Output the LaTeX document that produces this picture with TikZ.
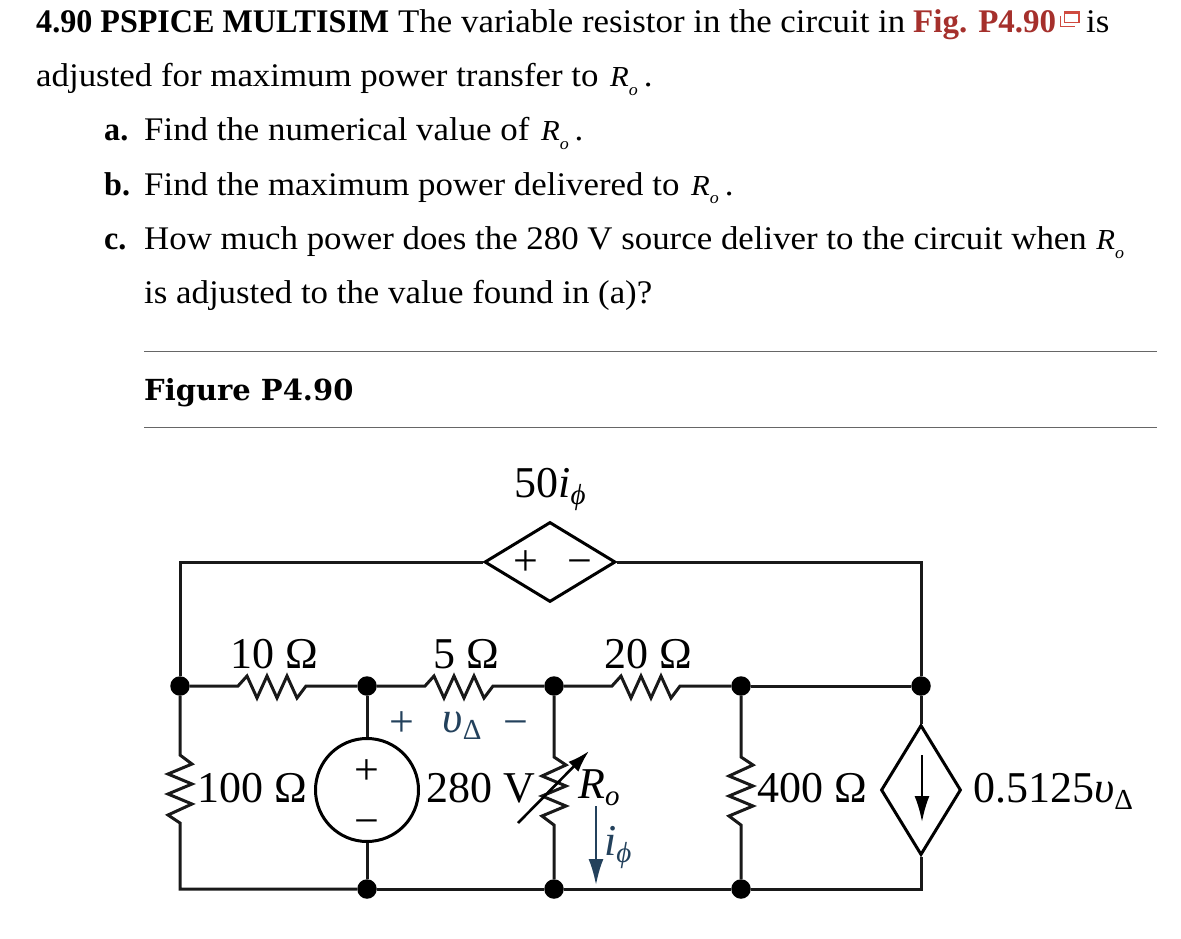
\documentclass[tikz,border=0pt]{standalone}
\usepackage{fontspec}
\usetikzlibrary{shapes.geometric,arrows.meta}
\setmainfont{Liberation Serif}
\newfontfamily\bodyf[FakeStretch=1.056]{Liberation Serif}
\newfontfamily\boldf[FakeStretch=0.973]{Liberation Serif Bold}
\newfontfamily\redf{Liberation Serif Bold}
\newfontfamily\figf{DejaVu Serif}
\newcommand\bsz{\fontsize{33}{38}\selectfont\bodyf}
\newcommand\lsz{\fontsize{44}{50}\selectfont}
\newcommand\lsub[1]{\raisebox{-7pt}{\fontsize{29}{32}\selectfont #1}}
\newcommand\RoBare{{\fontsize{29}{32}\selectfont\itshape R}\raisebox{-9pt}{\fontsize{17}{20}\selectfont\itshape o}}
\newcommand\Ro{\hspace{3pt}\RoBare\hspace{6pt}.}
\definecolor{figred}{HTML}{A5302C}
\definecolor{iconred}{HTML}{CF4A3F}
\definecolor{figblue}{HTML}{23415C}
\tikzset{
 txt/.style={anchor=base west,inner sep=0pt,font=\bsz,text=black},
 lab/.style={anchor=base,inner sep=0pt,font=\lsz,text=black},
 bluelab/.style={lab,text=figblue},
 wire/.style={line width=3pt,line join=miter,draw=black!90},
 dot/.style={circle,fill=black,inner sep=0pt,minimum size=19.5pt},
 rule/.style={line width=1pt,draw=black!60},
 hdiam/.style={diamond,draw=black,line width=3pt,inner sep=0pt,aspect=1.64,minimum width=131pt,minimum height=80pt},
 vdiam/.style={diamond,draw=black,line width=3pt,inner sep=0pt,aspect=0.615,minimum width=80pt,minimum height=130pt},
 src/.style={circle,draw=black,line width=3pt,inner sep=0pt,minimum size=103pt}
}
\begin{document}
\begin{tikzpicture}[x=1pt,y=-1pt]
\useasboundingbox (0,0) rectangle (1181,939);
% text
\node[txt,font=\fontsize{33}{38}\selectfont\boldf] (t1a) at (36,33) {4.90 PSPICE MULTISIM};
\node[txt] (t1b) at (398,33) {The variable resistor in the circuit in};
\node[txt,font=\fontsize{33}{38}\selectfont\redf,text=figred] (t1c) at (913,33) {Fig. P4.90};
\node[txt] (t1d) at (1086,33) {is};
\node[txt] (t2) at (36,87) {adjusted for maximum power transfer to \Ro};
\node[txt,font=\fontsize{33}{38}\selectfont\boldf] (ta) at (104,141) {a.};
\node[txt] (tat) at (144,141) {Find the numerical value of \Ro};
\node[txt,font=\fontsize{33}{38}\selectfont\boldf] (tb) at (104,195) {b.};
\node[txt] (tbt) at (144,195) {Find the maximum power delivered to \Ro};
\node[txt,font=\fontsize{33}{38}\selectfont\boldf] (tc) at (104,249) {c.};
\node[txt] (tct) at (144,249) {How much power does the 280 V source deliver to the circuit when \hspace{1pt}\RoBare};
\node[txt] (tdt) at (144,303) {is adjusted to the value found in (a)?};
\node[anchor=base west,inner sep=0pt,font=\fontsize{29}{34}\selectfont\figf\bfseries] (figt) at (144,400) {Figure P4.90};
% icon
\draw[iconred,line width=1.8pt] (1060.5,16) -- (1060.5,26.5) -- (1075,26.5);
\draw[iconred,line width=1.6pt] (1064.5,12) rectangle (1079,22.5);
\draw[iconred,line width=2.6pt] (1064,13) -- (1079.5,13);
% rules
\coordinate (r1a) at (144,351); \coordinate (r1b) at (1157,351);
\coordinate (r2a) at (144,427); \coordinate (r2b) at (1157,427);
\draw[rule] (r1a) -- (r1b);
\draw[rule] (r2a) -- (r2b);
% circuit nodes
\coordinate (tl) at (180,562);
\coordinate (tr) at (921,562);
\coordinate (bl) at (180,889);
\coordinate (br) at (921,889);
\node[dot] (n1) at (180,686) {};
\node[dot] (n2) at (367,686) {};
\node[dot] (n3) at (554,686) {};
\node[dot] (n4) at (741,686) {};
\node[dot] (n5) at (921,686) {};
\node[dot] (b2) at (367,889) {};
\node[dot] (b3) at (554,889) {};
\node[dot] (b4) at (741,889) {};
\node[hdiam] (cvs) at (550,562) {};
\node[vdiam] (ccs) at (921,790) {};
\node[src] (vs) at (367,790) {};
% wires
\draw[wire] (cvs.west) -- (tl) -- (n1);
\draw[wire] (cvs.east) -- (tr) -- (n5);
\draw[wire] (ccs.north) -- (n5);
\draw[wire] (n4) -- (n5);
\draw[wire] (ccs.south) -- (br) -- (b4);
\draw[wire] (b4) -- (b3);
\draw[wire] (b3) -- (b2);
\draw[wire] (b2) -- (bl) -- ++(0,-66) -- ++(-12,-8) -- ++(24,-11) -- ++(-24,-10) -- ++(24,-10) -- ++(-24,-10) -- ++(24,-10) -- ++(-12,-9) -- (n1);
\draw[wire] (n1) -- ++(58,0) -- ++(9,-10) -- ++(10,22) -- ++(10,-22) -- ++(10,22) -- ++(10,-22) -- ++(10,22) -- ++(9,-12) -- (n2);
\draw[wire] (n2) -- ++(58,0) -- ++(9,-10) -- ++(10,22) -- ++(10,-22) -- ++(10,22) -- ++(10,-22) -- ++(10,22) -- ++(9,-12) -- (n3);
\draw[wire] (n3) -- ++(58,0) -- ++(9,-10) -- ++(10,22) -- ++(10,-22) -- ++(10,22) -- ++(10,-22) -- ++(10,22) -- ++(9,-12) -- (n4);
\draw[wire] (n2) -- (vs.north);
\draw[wire] (vs.south) -- (b2);
\draw[wire] (n3) -- ++(0,71) -- ++(12,8) -- ++(-24,11) -- ++(24,10) -- ++(-24,10) -- ++(24,10) -- ++(-24,10) -- ++(12,9) -- (b3);
\draw[wire] (n4) -- ++(0,71) -- ++(12,8) -- ++(-24,11) -- ++(24,10) -- ++(-24,10) -- ++(24,10) -- ++(-24,10) -- ++(12,9) -- (b4);
% variable-resistor arrow
\coordinate (va) at (518,823);
\coordinate (vb) at (589,751);
\draw[line width=2.6pt,-{Latex[length=22pt,width=14pt]}] (va) -- (vb);
% current arrows
\coordinate (ia) at (596,806);
\coordinate (ib) at (596,885);
\draw[line width=2.2pt,figblue,-{Latex[length=26pt,width=15pt]}] (ia) -- (ib);
\coordinate (ja) at (922,755);
\coordinate (jb) at (922,822);
\draw[line width=2.2pt,-{Latex[length=26pt,width=15pt]}] (ja) -- (jb);
% polarity signs
\node[lab] (p1) at (526,575) {+};
\node[lab] (m1) at (580,575) {\textminus};
\node[lab] (p2) at (367,784) {+};
\node[lab] (m2) at (367,835) {\textminus};
\node[bluelab] (p3) at (402,736) {+};
\node[bluelab] (m3) at (516,736) {\textminus};
% labels
\node[lab] (l50) at (550,497) {50{\itshape i}\lsub{\itshape ϕ}};
\node[lab] (l10) at (274,668) {10 Ω};
\node[lab] (l5) at (466,668) {5 Ω};
\node[lab] (l20) at (648,668) {20 Ω};
\node[bluelab] (lv) at (462,732) {{\itshape υ}\lsub{Δ}};
\node[lab,anchor=base west] (l100) at (197,802) {100 Ω};
\node[lab,anchor=base west] (l280) at (426,802) {280 V};
\node[lab,anchor=base west] (lR) at (578,798) {{\itshape R}\lsub{\itshape o}};
\node[bluelab,anchor=base west] (li) at (604,855) {{\itshape i}\lsub{\itshape ϕ}};
\node[lab,anchor=base west] (l400) at (757,802) {400 Ω};
\node[lab,anchor=base west] (lcc) at (973,802) {0.5125{\itshape υ}\lsub{Δ}};
\end{tikzpicture}
\end{document}
